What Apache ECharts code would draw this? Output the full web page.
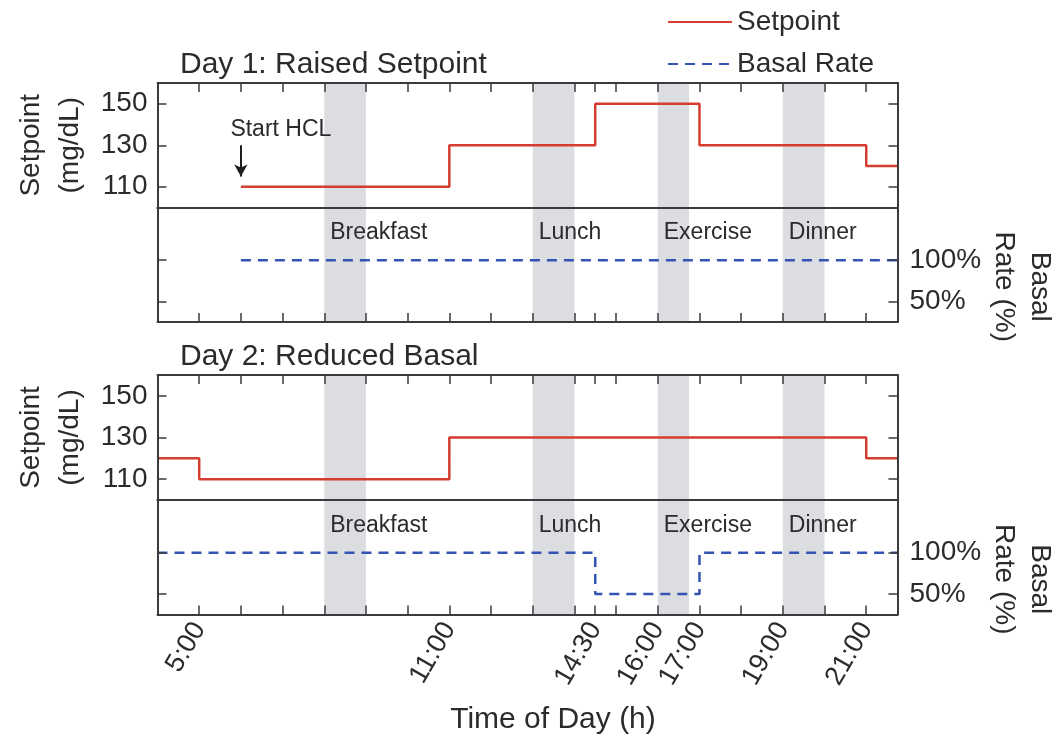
<!DOCTYPE html>
<html>
<head>
<meta charset="utf-8">
<script src="https://cdn.jsdelivr.net/npm/echarts@6/dist/echarts.min.js"></script>
<style>
html,body{margin:0;padding:0;background:#fff;}
#chart{width:1056px;height:737px;}
</style>
</head>
<body>
<div id="chart"></div>
<script>
// ---- data ----
const day1SetpointTimes = [6, 11, 14.5, 17, 21, 21.75];
const day1SetpointValues = [110, 130, 150, 130, 120, 120];
const day1BasalTimes = [6, 21.75];
const day1BasalValues = [100, 100];
const day2SetpointTimes = [4, 5, 11, 21, 21.75];
const day2SetpointValues = [120, 110, 130, 120, 120];
const day2BasalTimes = [4, 14.5, 17, 21.75];
const day2BasalValues = [100, 50, 100, 100];
const eventNames = ['Breakfast', 'Lunch', 'Exercise', 'Dinner'];
const eventStart = [8, 13, 16, 19];
const eventEnd = [9, 14, 16.75, 20];
const tickTimes = [5, 6, 7, 8, 9, 10, 11, 12, 13, 14, 14.5, 15, 16, 17, 18, 19, 20, 21];
const labelTimes = [5, 11, 14.5, 16, 17, 19, 21];
const setpointTicks = [110, 130, 150];
const basalTicks = [50, 100];
const startHCL = { time: 6, from: 130, to: 115, text: 'Start HCL' };
const dayTitles = ['Day 1: Raised Setpoint', 'Day 2: Reduced Basal'];

const FONT = '"Liberation Sans", Arial, Helvetica, sans-serif';
const TXT = '#2b2b2e';
const AX = '#3a3a3f';
const RED = '#d43d2f';
const BLUE = '#3454b4';
const BAND = '#dcdde0';

const zip = (a, b) => a.map((v, i) => [v, b[i]]);
const fmtTime = v => { const h = Math.floor(v); const m = Math.round((v - h) * 60); return h + ':' + (m < 10 ? '0' + m : m); };

const L = 157.5, W = 740;
const grids = [
  { left: L, width: W, top: 83, height: 124.5, outerBoundsMode: 'none' },
  { left: L, width: W, top: 207.5, height: 114.5, outerBoundsMode: 'none' },
  { left: L, width: W, top: 375, height: 125, outerBoundsMode: 'none' },
  { left: L, width: W, top: 500, height: 114.5, outerBoundsMode: 'none' }
];

function bandData(withLabel) {
  return eventNames.map((n, i) => [
    { xAxis: eventStart[i], name: n, label: { show: withLabel } },
    { xAxis: eventEnd[i] }
  ]);
}
const markAreaOpt = (withLabel) => ({
  silent: true,
  itemStyle: { color: BAND, opacity: 1 },
  label: {
    show: withLabel, position: [6, 14], color: TXT, fontSize: 23, fontFamily: FONT,
    formatter: p => p.name
  },
  data: bandData(withLabel)
});

const xAxes = [];
const yAxes = [];
grids.forEach((g, gi) => {
  const isSet = gi % 2 === 0;
  const isBottomLabels = gi === 3;
  xAxes.push({
    type: 'value', gridIndex: gi, min: 4, max: 21.75, z: 5,
    position: isSet ? 'top' : 'bottom',
    axisLine: { show: true, onZero: false, lineStyle: { color: AX, width: 2 } },
    axisTick: { show: true, inside: true, length: 9, customValues: tickTimes, lineStyle: { color: AX, width: 1.5 } },
    axisLabel: isBottomLabels ? {
      show: true, customValues: labelTimes, rotate: 60, margin: 10, fontSize: 27, color: TXT, fontFamily: FONT,
      formatter: v => fmtTime(v)
    } : { show: false },
    splitLine: { show: false },
    name: isBottomLabels ? 'Time of Day (h)' : '',
    nameLocation: 'middle', nameGap: 90,
    nameTextStyle: { fontSize: 30, color: TXT, fontFamily: FONT, padding: [0, 0, 0, 51] }
  });
  xAxes.push({
    type: 'value', gridIndex: gi, min: 4, max: 21.75, z: 5,
    position: isSet ? 'bottom' : 'top',
    axisLine: { show: true, onZero: false, lineStyle: { color: AX, width: 2 } },
    axisTick: { show: false }, axisLabel: { show: false }, splitLine: { show: false }
  });
  const yMin = isSet ? 100 : 25, yMax = isSet ? 160 : 164;
  const ticks = isSet ? setpointTicks : basalTicks;
  yAxes.push({
    type: 'value', gridIndex: gi, min: yMin, max: yMax, position: 'left', z: 5,
    axisLine: { show: true, onZero: false, lineStyle: { color: AX, width: 2 } },
    axisTick: { show: true, inside: true, length: 9, customValues: ticks, lineStyle: { color: AX, width: 1.5 } },
    axisLabel: isSet ? { show: true, customValues: ticks, fontSize: 28, color: TXT, fontFamily: FONT, margin: 10 } : { show: false },
    splitLine: { show: false },
    name: isSet ? 'Setpoint\n(mg/dL)' : '',
    nameLocation: 'middle', nameRotate: 90, nameGap: 65,
    nameTextStyle: { fontSize: 28, color: TXT, fontFamily: FONT, lineHeight: 39 }
  });
  yAxes.push({
    type: 'value', gridIndex: gi, min: yMin, max: yMax, position: 'right', z: 5,
    axisLine: { show: true, onZero: false, lineStyle: { color: AX, width: 2 } },
    axisTick: { show: true, inside: true, length: 9, customValues: ticks, lineStyle: { color: AX, width: 1.5 } },
    axisLabel: isSet ? { show: false } : {
      show: true, customValues: ticks, fontSize: 28, color: TXT, fontFamily: FONT, margin: 12,
      formatter: v => v + '%'
    },
    splitLine: { show: false },
    name: isSet ? '' : 'Basal\nRate (%)',
    nameLocation: 'middle', nameRotate: -90, nameGap: 88, nameMoveOverlap: false,
    nameTextStyle: { fontSize: 28, color: TXT, fontFamily: FONT, lineHeight: 36, padding: [0, 0, 0, 44] }
  });
});

const series = [
  {
    name: 'Setpoint', type: 'line', step: 'end', xAxisIndex: 0, yAxisIndex: 0, z: 3,
    data: zip(day1SetpointTimes, day1SetpointValues), symbol: 'none',
    lineStyle: { color: RED, width: 2.5 }, itemStyle: { color: RED },
    markArea: markAreaOpt(false),
    markLine: {
      silent: true, symbol: ['none', 'arrow'], symbolSize: [10, 12],
      lineStyle: { color: '#1e1e22', width: 2, type: 'solid' },
      label: { show: true, position: 'start', formatter: startHCL.text, fontSize: 23, color: TXT, fontFamily: FONT, distance: 4, padding: [0, 0, 0, 80] },
      data: [[{ coord: [startHCL.time, startHCL.from] }, { coord: [startHCL.time, startHCL.to] }]]
    }
  },
  {
    name: 'Basal Rate', type: 'line', step: 'end', xAxisIndex: 2, yAxisIndex: 2, z: 3,
    data: zip(day1BasalTimes, day1BasalValues), symbol: 'none',
    lineStyle: { color: BLUE, width: 2.5, type: [10, 7] }, itemStyle: { color: BLUE },
    markArea: markAreaOpt(true)
  },
  {
    name: 'Setpoint', type: 'line', step: 'end', xAxisIndex: 4, yAxisIndex: 4, z: 3,
    data: zip(day2SetpointTimes, day2SetpointValues), symbol: 'none',
    lineStyle: { color: RED, width: 2.5 }, itemStyle: { color: RED },
    markArea: markAreaOpt(false)
  },
  {
    name: 'Basal Rate', type: 'line', step: 'end', xAxisIndex: 6, yAxisIndex: 6, z: 3,
    data: zip(day2BasalTimes, day2BasalValues), symbol: 'none',
    lineStyle: { color: BLUE, width: 2.5, type: [10, 7] }, itemStyle: { color: BLUE },
    markArea: markAreaOpt(true)
  }
];

const chart = echarts.init(document.getElementById('chart'), null, { renderer: 'canvas' });
chart.setOption({
  animation: false,
  backgroundColor: '#fff',
  textStyle: { fontFamily: FONT },
  title: [
    { text: dayTitles[0], left: 175, top: 45, textStyle: { fontSize: 30, fontWeight: 'normal', color: TXT, fontFamily: FONT } },
    { text: dayTitles[1], left: 175, top: 337, textStyle: { fontSize: 30, fontWeight: 'normal', color: TXT, fontFamily: FONT } }
  ],
  legend: {
    data: ['Setpoint', 'Basal Rate'], orient: 'vertical', left: 662, top: 3,
    itemWidth: 64, itemHeight: 20, itemGap: 14, selectedMode: false,
    itemStyle: { opacity: 0 },
    textStyle: { fontSize: 28, color: TXT, fontFamily: FONT }
  },
  grid: grids,
  xAxis: xAxes,
  yAxis: yAxes,
  series: series
});
</script>
</body>
</html>
